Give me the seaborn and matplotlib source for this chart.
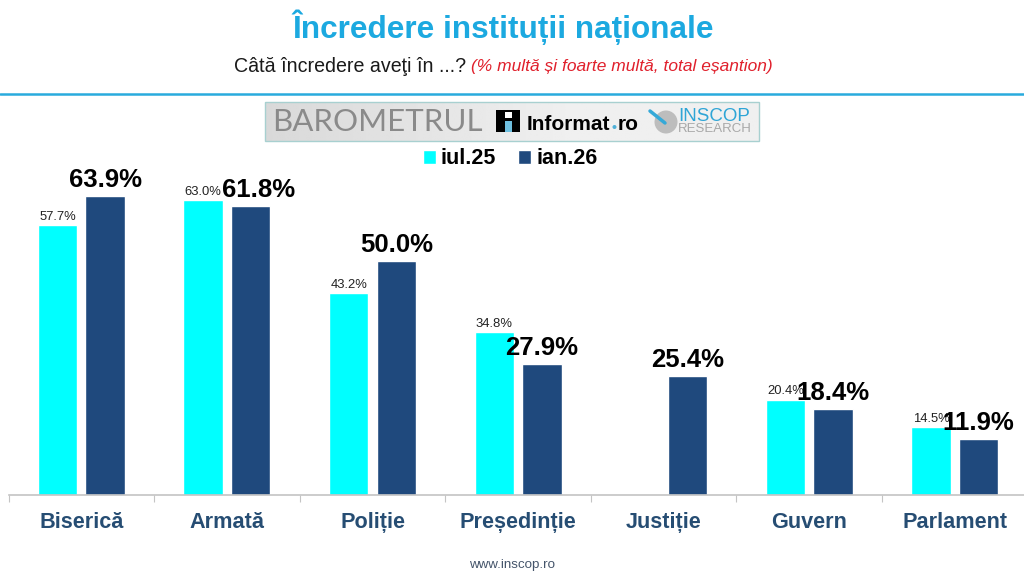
import numpy as np
import pandas as pd
import matplotlib
matplotlib.use("Agg")

import matplotlib.pyplot as plt
import seaborn as sns
from matplotlib.patches import Rectangle, Circle

# Data
categories = ["Biserică", "Armată", "Poliție", "Președinție", "Justiție", "Guvern", "Parlament"]
iul_25 = [57.7, 63.0, 43.2, 34.8, np.nan, 20.4, 14.5]
ian_26 = [63.9, 61.8, 50.0, 27.9, 25.4, 18.4, 11.9]
series_names = ["iul.25", "ian.26"]

df = pd.DataFrame({
    "categorie": categories * 2,
    "val": iul_25 + ian_26,
    "val_name": [series_names[0]] * 7 + [series_names[1]] * 7,
})

CYAN = "#00FFFF"
NAVY = "#1F497D"
LABEL = "#264D73"

sns.set_theme(style="white")
plt.rcParams["font.family"] = ["Liberation Sans", "DejaVu Sans"]

W, H = 1024, 575
fig = plt.figure(figsize=(W / 100, H / 100), dpi=100, facecolor="white")

# Chart axes, placed in pixels
left, right, top, bottom = 8.5, 1024, 170, 495
ax = fig.add_axes([left / W, 1 - bottom / H, (right - left) / W, (bottom - top) / H])

sns.barplot(
    data=df,
    x="categorie",
    y="val",
    hue="val_name",
    order=categories,
    hue_order=series_names,
    palette=[CYAN, NAVY],
    width=0.652,
    gap=0.17,
    saturation=1,
    legend=True,
    ax=ax,
)

ax.set_xlim(-0.5, (right - left) / 145.6 - 0.5)
ax.set_ylim(0, (bottom - top) / 4.68)
ax.set_xlabel("")
ax.set_ylabel("")
ax.set_yticks([])
sns.despine(ax=ax, left=True)
ax.spines["bottom"].set_color("#C4C4C4")
ax.spines["bottom"].set_linewidth(1.2)
ax.patch.set_alpha(0)

# Category labels and separators
ax.tick_params(axis="x", which="major", length=0, pad=12.5)
ax.set_xticks(range(len(categories)))
ax.set_xticklabels(categories, fontsize=15.6, fontweight="bold", color=LABEL)
ax.set_xticks(np.arange(len(categories)) - 0.5, minor=True)
ax.tick_params(axis="x", which="minor", bottom=True, length=5, width=0.8, color="#C4C4C4")

# Value labels
small, big = ax.containers[0], ax.containers[1]
ax.bar_label(
    small,
    labels=["" if np.isnan(v) else f"{v:.1f}%" for v in small.datavalues],
    padding=1.5,
    fontsize=9.4,
    color="#222222",
)
big_labels = ax.bar_label(
    big,
    labels=[f"{v:.1f}%" for v in big.datavalues],
    padding=3,
    fontsize=18.5,
    fontweight="bold",
    color="black",
)
big_labels[1].xyann = (5.7, 3)  # Armată label sits off centre

# Legend
ax.legend_.remove()
handles, names = ax.get_legend_handles_labels()
leg = fig.legend(
    handles,
    names,
    ncol=2,
    loc="center",
    bbox_to_anchor=(510 / W, 1 - 159 / H),
    frameon=False,
    handlelength=0.6,
    handleheight=0.6,
    handletextpad=0.25,
    columnspacing=1.0,
    prop={"size": 15.5, "weight": "bold"},
)
for t in leg.get_texts():
    t.set_color("black")

# Overlay in pixel coordinates for header, logo and footer
ov = fig.add_axes([0, 0, 1, 1], zorder=-1)
ov.set_xlim(0, W)
ov.set_ylim(H, 0)
ov.axis("off")

ov.text(503, 27, "Încredere instituții naționale", fontsize=22.7, fontweight="bold",
        color="#1CA9E0", ha="center", va="center")
ov.text(234, 66, "Câtă încredere aveţi în ...?", fontsize=14.1, color="#1A1A1A",
        ha="left", va="center")
ov.text(471, 66, "(% multă și foarte multă, total eșantion)", fontsize=12.55, style="italic",
        color="#E0202C", ha="left", va="center")
ov.plot([0, W], [94, 94], color="#29ABDD", lw=1.8)
ov.text(512, 565, "www.inscop.ro", fontsize=9.6, color="#44546A", ha="center", va="center")

# Logo strip
grad = np.linspace(0, 1, 256).reshape(1, -1)
grad = 0.85 + 0.09 * np.minimum(grad * 1.6, 1)
ov.imshow(grad, extent=(265, 759, 141, 102), cmap="gray", vmin=0, vmax=1, aspect="auto", zorder=1)
ov.set_xlim(0, W)
ov.set_ylim(H, 0)
ov.add_patch(Rectangle((265, 102), 494, 39, fill=False, ec="#A8D0D0", lw=1.0, zorder=2))
ov.text(272, 122, "BAROMETRUL", fontsize=22.5, family="Lato", color="#8A8A8A",
        ha="left", va="center", zorder=3)
ov.add_patch(Rectangle((496, 110), 24, 22, fc="black", ec="none", zorder=3))
ov.add_patch(Rectangle((505, 121), 7, 11, fc="#6FC0E0", ec="none", zorder=4))
ov.add_patch(Rectangle((505, 112), 7, 6, fc="white", ec="none", zorder=4))
ov.text(527, 125, "Informat", fontsize=15, fontweight="bold", color="black",
        ha="left", va="center", zorder=3)
ov.text(618, 125, "ro", fontsize=15, fontweight="bold", color="black",
        ha="left", va="center", zorder=3)
ov.add_patch(Circle((614.5, 127), 2, fc="#4FB0D8", ec="none", zorder=3))
ov.add_patch(Circle((666, 122), 11.5, fc="#BDBDBD", ec="none", zorder=3))
ov.plot([650, 665], [111, 123], color="#35A9D8", lw=2.5, zorder=4)
ov.text(678, 116.5, "INSCOP", fontsize=13.5, color="#2FA5D6", ha="left", va="center", zorder=3)
ov.text(678, 129, "RESEARCH", fontsize=9.5, color="#A8A8A8", ha="left", va="center", zorder=3)

plt.savefig("out.png", dpi=100)
